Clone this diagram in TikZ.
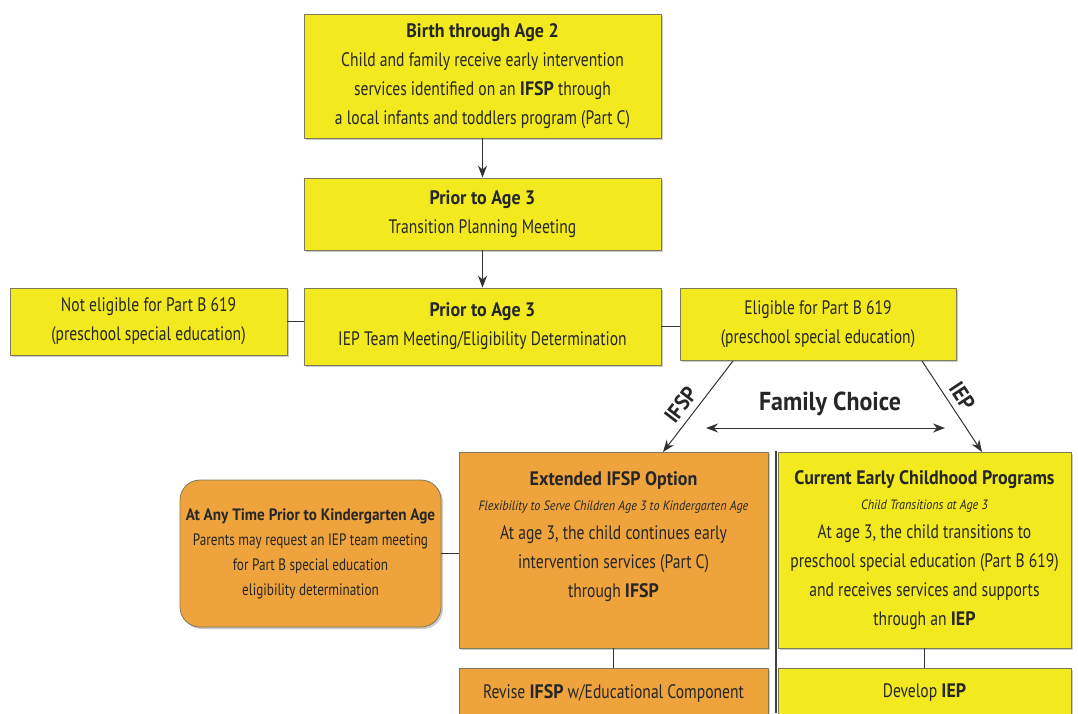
\documentclass[tikz,border=0pt]{standalone}
\usepackage{fontspec}
\setmainfont{PT Sans}[FakeStretch=0.8,BoldFeatures={FakeStretch=0.92},
  ItalicFeatures={FakeStretch=0.9}]
\usetikzlibrary{arrows.meta,shadows}
\definecolor{boxyellow}{HTML}{F2EA1E}
\definecolor{boxorange}{HTML}{EEA33C}
\definecolor{boxline}{HTML}{7D7A5A}
\begin{document}
\begin{tikzpicture}[x=1pt,y=-1pt,line join=round,
  box/.style={draw=boxline,line width=0.8pt,inner sep=0pt,align=center,text=black!85,
    drop shadow={shadow xshift=2pt,shadow yshift=-2pt,fill=black!40,opacity=0.5},
    font=\fontsize{19.5}{29}\selectfont},
  ybox/.style={box,fill=boxyellow},
  obox/.style={box,fill=boxorange},
  link/.style={draw=black!80,line width=1pt},
  arr/.style={link,-{Stealth[length=12pt,width=9pt]}},
  tag/.style={font=\bfseries\fontsize{22}{22}\selectfont,text=black!85}]
\useasboundingbox (0,0) rectangle (1078,713);
\fill[white] (0,0) rectangle (1078,713);
\clip (0,0) rectangle (1078,713);
% top of the chart
\node[ybox,minimum width=357,minimum height=124] (birth) at (482.5,76)
  {\textbf{Birth through Age 2}\\Child and family receive early intervention\\
   services identified on an \textbf{IFSP} through\\a local infants and toddlers program (Part C)};
\node[ybox,minimum width=357,minimum height=72] (plan) at (482.5,214)
  {\textbf{Prior to Age 3}\\Transition Planning Meeting};
\node[ybox,minimum width=357,minimum height=77] (meet) at (482.5,326.5)
  {\textbf{Prior to Age 3}\\IEP Team Meeting/Eligibility Determination};
\node[ybox,minimum width=277,minimum height=67] (notelig) at (148.5,321.5)
  {Not eligible for Part B 619\\(preschool special education)};
\node[ybox,minimum width=276,minimum height=72] (elig) at (818,324)
  {Eligible for Part B 619\\(preschool special education)};
\draw[arr] (birth) -- (plan);
\draw[arr] (plan) -- (meet);
\draw[link] (notelig.east) -- (notelig.east -| meet.west);
\draw[link] (meet.east) -- (meet.east -| elig.west);
% family choice
\coordinate (ifspTop) at (733,361);
\coordinate (ifspEnd) at (663,452);
\coordinate (iepTop) at (922,361);
\coordinate (iepEnd) at (982,452);
\coordinate (fcL) at (706,428);
\coordinate (fcR) at (945,428);
\draw[arr] (ifspTop) -- node[tag,sloped,above=3pt,pos=0.58] {IFSP} (ifspEnd);
\draw[arr] (iepTop) -- node[tag,sloped,above=3pt,pos=0.47] {IEP} (iepEnd);
\node[font=\bfseries\fontsize{26}{26}\selectfont,text=black!85] (choice) at (830,404) {Family Choice};
\draw[link,{Stealth[length=12pt,width=9pt]}-{Stealth[length=12pt,width=9pt]}] (fcL) -- (fcR);
% the two options
\node[obox,minimum width=309,minimum height=196] (ext) at (613.5,550)
  {\textbf{Extended IFSP Option}\\[-4pt]
   {\fontsize{13.5}{15}\selectfont\itshape Flexibility to Serve Children Age 3 to Kindergarten Age}\\
   At age 3, the child continues early\\intervention services (Part C)\\through \textbf{IFSP}\\[2pt]};
\node[ybox,minimum width=293,minimum height=196] (cur) at (924.5,550)
  {\textbf{Current Early Childhood Programs}\\[-4pt]
   {\fontsize{13.5}{15}\selectfont\itshape Child Transitions at Age 3}\\
   At age 3, the child transitions to\\preschool special education (Part B 619)\\
   and receives services and supports\\through an \textbf{IEP}};
\node[obox,rounded corners=20,minimum width=261,minimum height=147,
  font=\fontsize{16.5}{25}\selectfont] (anytime) at (310.5,553.5)
  {\textbf{At Any Time Prior to Kindergarten Age}\\Parents may request an IEP team meeting\\
   for Part B special education\\eligibility determination};
\draw[link] (anytime.east) -- (anytime.east -| ext.west);
\coordinate (sepTop) at (776,451);
\coordinate (sepBot) at (776,713);
\draw[draw=black!75,line width=2.6pt] (sepTop) -- (sepBot);
% next step
\node[obox,minimum width=309,minimum height=50] (revise) at (613.5,693)
  {Revise \textbf{IFSP} w/Educational Component};
\node[ybox,minimum width=293,minimum height=50] (develop) at (924.5,693)
  {Develop \textbf{IEP}};
\draw[link] (ext) -- (revise);
\draw[link] (cur.south -| develop.north) -- (develop);
\end{tikzpicture}
\end{document}
